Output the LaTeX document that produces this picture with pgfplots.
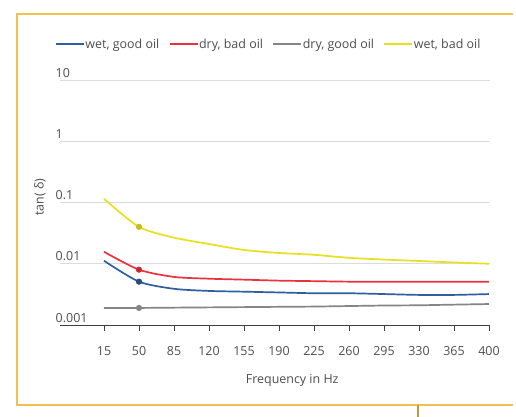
\documentclass[border=0pt]{standalone}
\usepackage{pgfplots}
\pgfplotsset{compat=1.18}
\usepackage{fontspec}
\setmainfont{Open Sans}
\definecolor{txt}{HTML}{4E4E4E}
\definecolor{cblue}{HTML}{2F5F9E}
\definecolor{cred}{HTML}{E8323E}
\definecolor{cgray}{HTML}{858585}
\definecolor{cyellow}{HTML}{E6E01E}
\definecolor{framecol}{HTML}{F0C050}
\definecolor{gridcol}{HTML}{DCDCDC}
\begin{document}
\begin{tikzpicture}
\path[use as bounding box] (0,0) rectangle (516bp,417bp);
\fill[white] (0,0) rectangle (516bp,417bp);
\draw[framecol, line width=2bp] (513bp,403bp) -- (17bp,403bp) -- (17bp,12bp) -- (513bp,12bp);
\draw[framecol!80!black, line width=1.2bp] (418bp,12bp) -- (418bp,0bp);
\begin{axis}[
  scale only axis, width=430bp, height=245bp,
  at={(60bp,92bp)}, anchor=south west,
  ymode=log, xmin=-29, xmax=401, ymin=0.001, ymax=10,
  axis x line=bottom, axis y line=left,
  x axis line style={-, draw=black!75, line width=1bp},
  y axis line style={draw=none},
  xtick={15,50,85,120,155,190,225,260,295,330,365,400},
  ytick={0.001,0.01,0.1,1,10},
  yticklabels={0.001,0.01,0.1,1,10},
  ytick style={draw=none},
  xtick style={draw=black!75, line width=1bp},
  tick align=outside, major tick length=6bp,
  minor tick num=0,
  /pgf/number format/assume math mode=true,
  ymajorgrids, major grid style={gridcol, line width=1bp},
  tick label style={font=\fontsize{12.5}{14}\selectfont, text=txt},
  yticklabel style={anchor=south west, inner sep=2.5bp, xshift=-1bp},
  xticklabel style={yshift=-12bp},
  label style={font=\fontsize{12.5}{14}\selectfont, text=txt},
  xlabel={Frequency in Hz},
  xlabel style={at={(axis description cs:0.54,0)}, anchor=center, yshift=-55bp},
  ylabel={tan( δ)},
  ylabel style={at={(axis description cs:-0.0465,0.522)}, anchor=center},
  legend style={at={(axis description cs:0.484,1)}, anchor=south, yshift=28bp,
    draw=none, fill=none, font=\fontsize{12.5}{14}\selectfont, text=txt,
    legend columns=-1, inner sep=0pt,
    nodes={inner xsep=0.5bp},
    /tikz/every even column/.append style={column sep=9bp}},
  legend image code/.code={\draw[#1, mark=none] (0bp,0bp) -- (28bp,0bp);},
  every axis plot/.append style={line width=1.7bp, smooth, tension=0.45,
    mark=*, mark size=2.2bp, mark indices={2}},
  clip=false,
]
\addplot[cblue, mark options={fill=cblue!80!black, draw=cblue!80!black}] coordinates {
(15,0.0112) (50,0.0051) (85,0.0039) (120,0.0036) (155,0.0035) (190,0.0034)
(225,0.0033) (260,0.0033) (295,0.0032) (330,0.0031) (365,0.0031) (400,0.0032)};
\addlegendentry{wet, good oil}
\addplot[cred, mark options={fill=cred!85!black, draw=cred!85!black}] coordinates {
(15,0.0157) (50,0.0080) (85,0.0061) (120,0.0057) (155,0.0055) (190,0.0053)
(225,0.0052) (260,0.0051) (295,0.0051) (330,0.0051) (365,0.0051) (400,0.0051)};
\addlegendentry{dry, bad oil}
\addplot[cgray, mark options={fill=cgray, draw=cgray}] coordinates {
(15,0.0019) (50,0.0019) (85,0.00192) (120,0.00194) (155,0.00196) (190,0.00198)
(225,0.0020) (260,0.00204) (295,0.00208) (330,0.0021) (365,0.00215) (400,0.0022)};
\addlegendentry{dry, good oil}
\addplot[cyellow, mark options={fill=cyellow!85!black, draw=cyellow!85!black}] coordinates {
(15,0.115) (50,0.040) (85,0.0267) (120,0.021) (155,0.0168) (190,0.0150)
(225,0.0140) (260,0.0125) (295,0.0117) (330,0.0111) (365,0.0105) (400,0.0100)};
\addlegendentry{wet, bad oil}
\end{axis}
\end{tikzpicture}
\end{document}
